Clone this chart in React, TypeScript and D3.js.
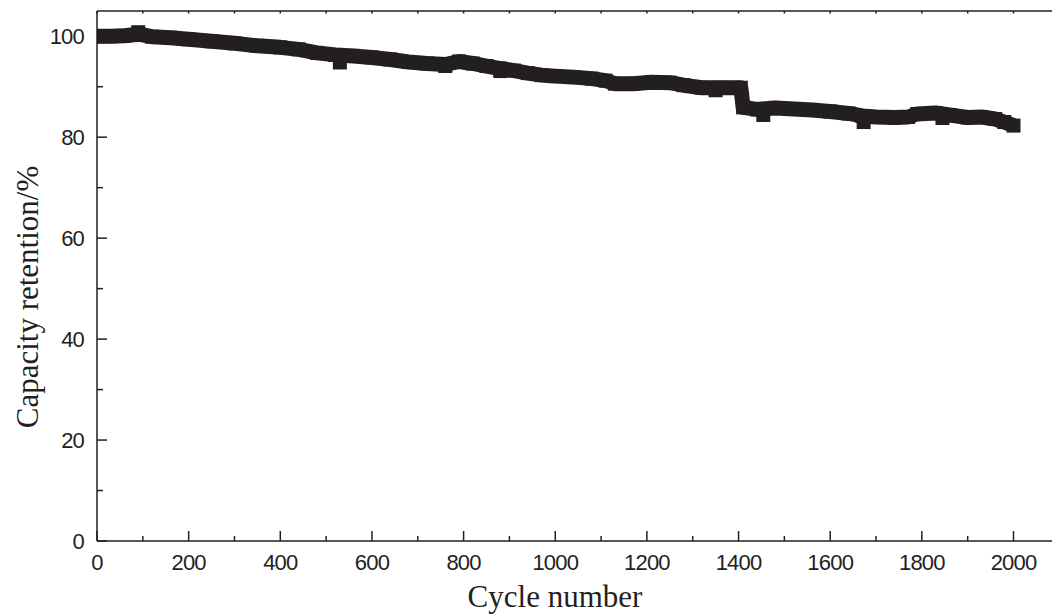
import React from 'react';
import * as d3 from 'd3';

// capacity retention
const cycles = [0, 30, 60, 90, 120, 160, 200, 250, 300, 350, 400, 440, 480, 520, 560, 600, 640, 680, 720, 760, 790, 820, 850, 880, 910, 940, 970, 1000, 1040, 1080, 1110, 1130, 1170, 1210, 1250, 1280, 1320, 1360, 1405, 1410, 1440, 1480, 1520, 1560, 1600, 1640, 1670, 1700, 1740, 1770, 1790, 1830, 1860, 1900, 1930, 1960, 1980, 2000];
const retention = [100.0, 100.0, 100.1, 100.4, 99.9, 99.7, 99.4, 99.0, 98.6, 98.1, 97.8, 97.4, 96.7, 96.3, 96.1, 95.8, 95.4, 94.9, 94.6, 94.4, 95.0, 94.6, 94.1, 93.6, 93.2, 92.7, 92.3, 92.1, 91.9, 91.6, 91.2, 90.6, 90.6, 90.9, 90.8, 90.3, 89.8, 89.8, 89.8, 85.9, 85.5, 85.8, 85.6, 85.4, 85.1, 84.7, 84.2, 84.0, 83.9, 84.0, 84.6, 84.8, 84.4, 83.9, 84.0, 83.6, 83.0, 82.3];

// single markers that stick out of the band
const outlierCycles = [90, 530, 760, 880, 1350, 1454, 1673, 1845];
const outlierValues = [100.8, 94.8, 94.1, 93.1, 89.3, 84.4, 83.0, 83.8];

const xMajor = [0, 200, 400, 600, 800, 1000, 1200, 1400, 1600, 1800, 2000];
const xMinor = [100, 300, 500, 700, 900, 1100, 1300, 1500, 1700, 1900];
const yMajor = [0, 20, 40, 60, 80, 100];
const yMinor = [10, 30, 50, 70, 90];

const ink = '#231f20';

export default function App() {
  const left = 97, right = 1052, top = 11, bottom = 541;
  const x = d3.scaleLinear().domain([0, 2084]).range([left, right]);
  const y = d3.scaleLinear().domain([0, 105]).range([bottom, top]);

  const pts = cycles.map((c, i) => [c, retention[i]] as [number, number]);
  const line = d3.line<[number, number]>().x(d => x(d[0])).y(d => y(d[1]));
  const sq = 14;

  const topTicks = d3.range(0, 2100, 100);

  return (
    <div style={{ position: 'fixed', left: 0, top: 0 }}>
      <svg width={1052} height={616} style={{ display: 'block', background: '#fff' }}>
        <defs>
          <clipPath id="plot">
            <rect x={left} y={top} width={right - left} height={bottom - top} />
          </clipPath>
        </defs>
        {/* data band */}
        <g clipPath="url(#plot)">
          <path d={line(pts) || ''} fill="none" stroke={ink} strokeWidth={15} strokeLinejoin="round" />
          {pts.map((d, i) => (
            <rect key={'p' + i} x={x(d[0]) - sq / 2} y={y(d[1]) - sq / 2} width={sq} height={sq} fill={ink} />
          ))}
          {outlierCycles.map((c, i) => (
            <rect key={'o' + i} x={x(c) - sq / 2} y={y(outlierValues[i]) - sq / 2} width={sq} height={sq} fill={ink} />
          ))}
        </g>

        {/* frame */}
        <g stroke={ink} strokeWidth={1.5} fill="none">
          <line x1={left} x2={right} y1={top} y2={top} />
          <line x1={left} x2={right} y1={bottom} y2={bottom} />
          <line x1={left} x2={left} y1={top} y2={bottom} />
          {xMajor.map(v => <line key={'xM' + v} x1={x(v)} x2={x(v)} y1={bottom} y2={bottom - 10} />)}
          {xMinor.map(v => <line key={'xm' + v} x1={x(v)} x2={x(v)} y1={bottom} y2={bottom - 5} />)}
          {yMajor.map(v => <line key={'yM' + v} x1={left} x2={left + 10} y1={y(v)} y2={y(v)} />)}
          {yMinor.map(v => <line key={'ym' + v} x1={left} x2={left + 6} y1={y(v)} y2={y(v)} />)}
          {topTicks.map(v => <line key={'t' + v} x1={x(v)} x2={x(v)} y1={top} y2={top + 2.5} />)}
        </g>

        {/* tick labels */}
        <g fontFamily="'Liberation Sans', Arial, sans-serif" fontSize={22} letterSpacing={-0.8} fill={ink}>
          {xMajor.map(v => (
            <text key={'xl' + v} x={x(v)} y={570} textAnchor="middle">{v}</text>
          ))}
          {yMajor.map(v => (
            <text key={'yl' + v} x={84} y={y(v) + 8} textAnchor="end">{v}</text>
          ))}
        </g>

        {/* axis titles */}
        <g fontFamily="'Liberation Serif', 'Times New Roman', serif" fontSize={31} fill={ink}>
          <text x={555} y={607} textAnchor="middle">Cycle number</text>
          <text transform="translate(38,297) rotate(-90)" textAnchor="middle">Capacity retention/%</text>
        </g>
      </svg>
    </div>
  );
}
